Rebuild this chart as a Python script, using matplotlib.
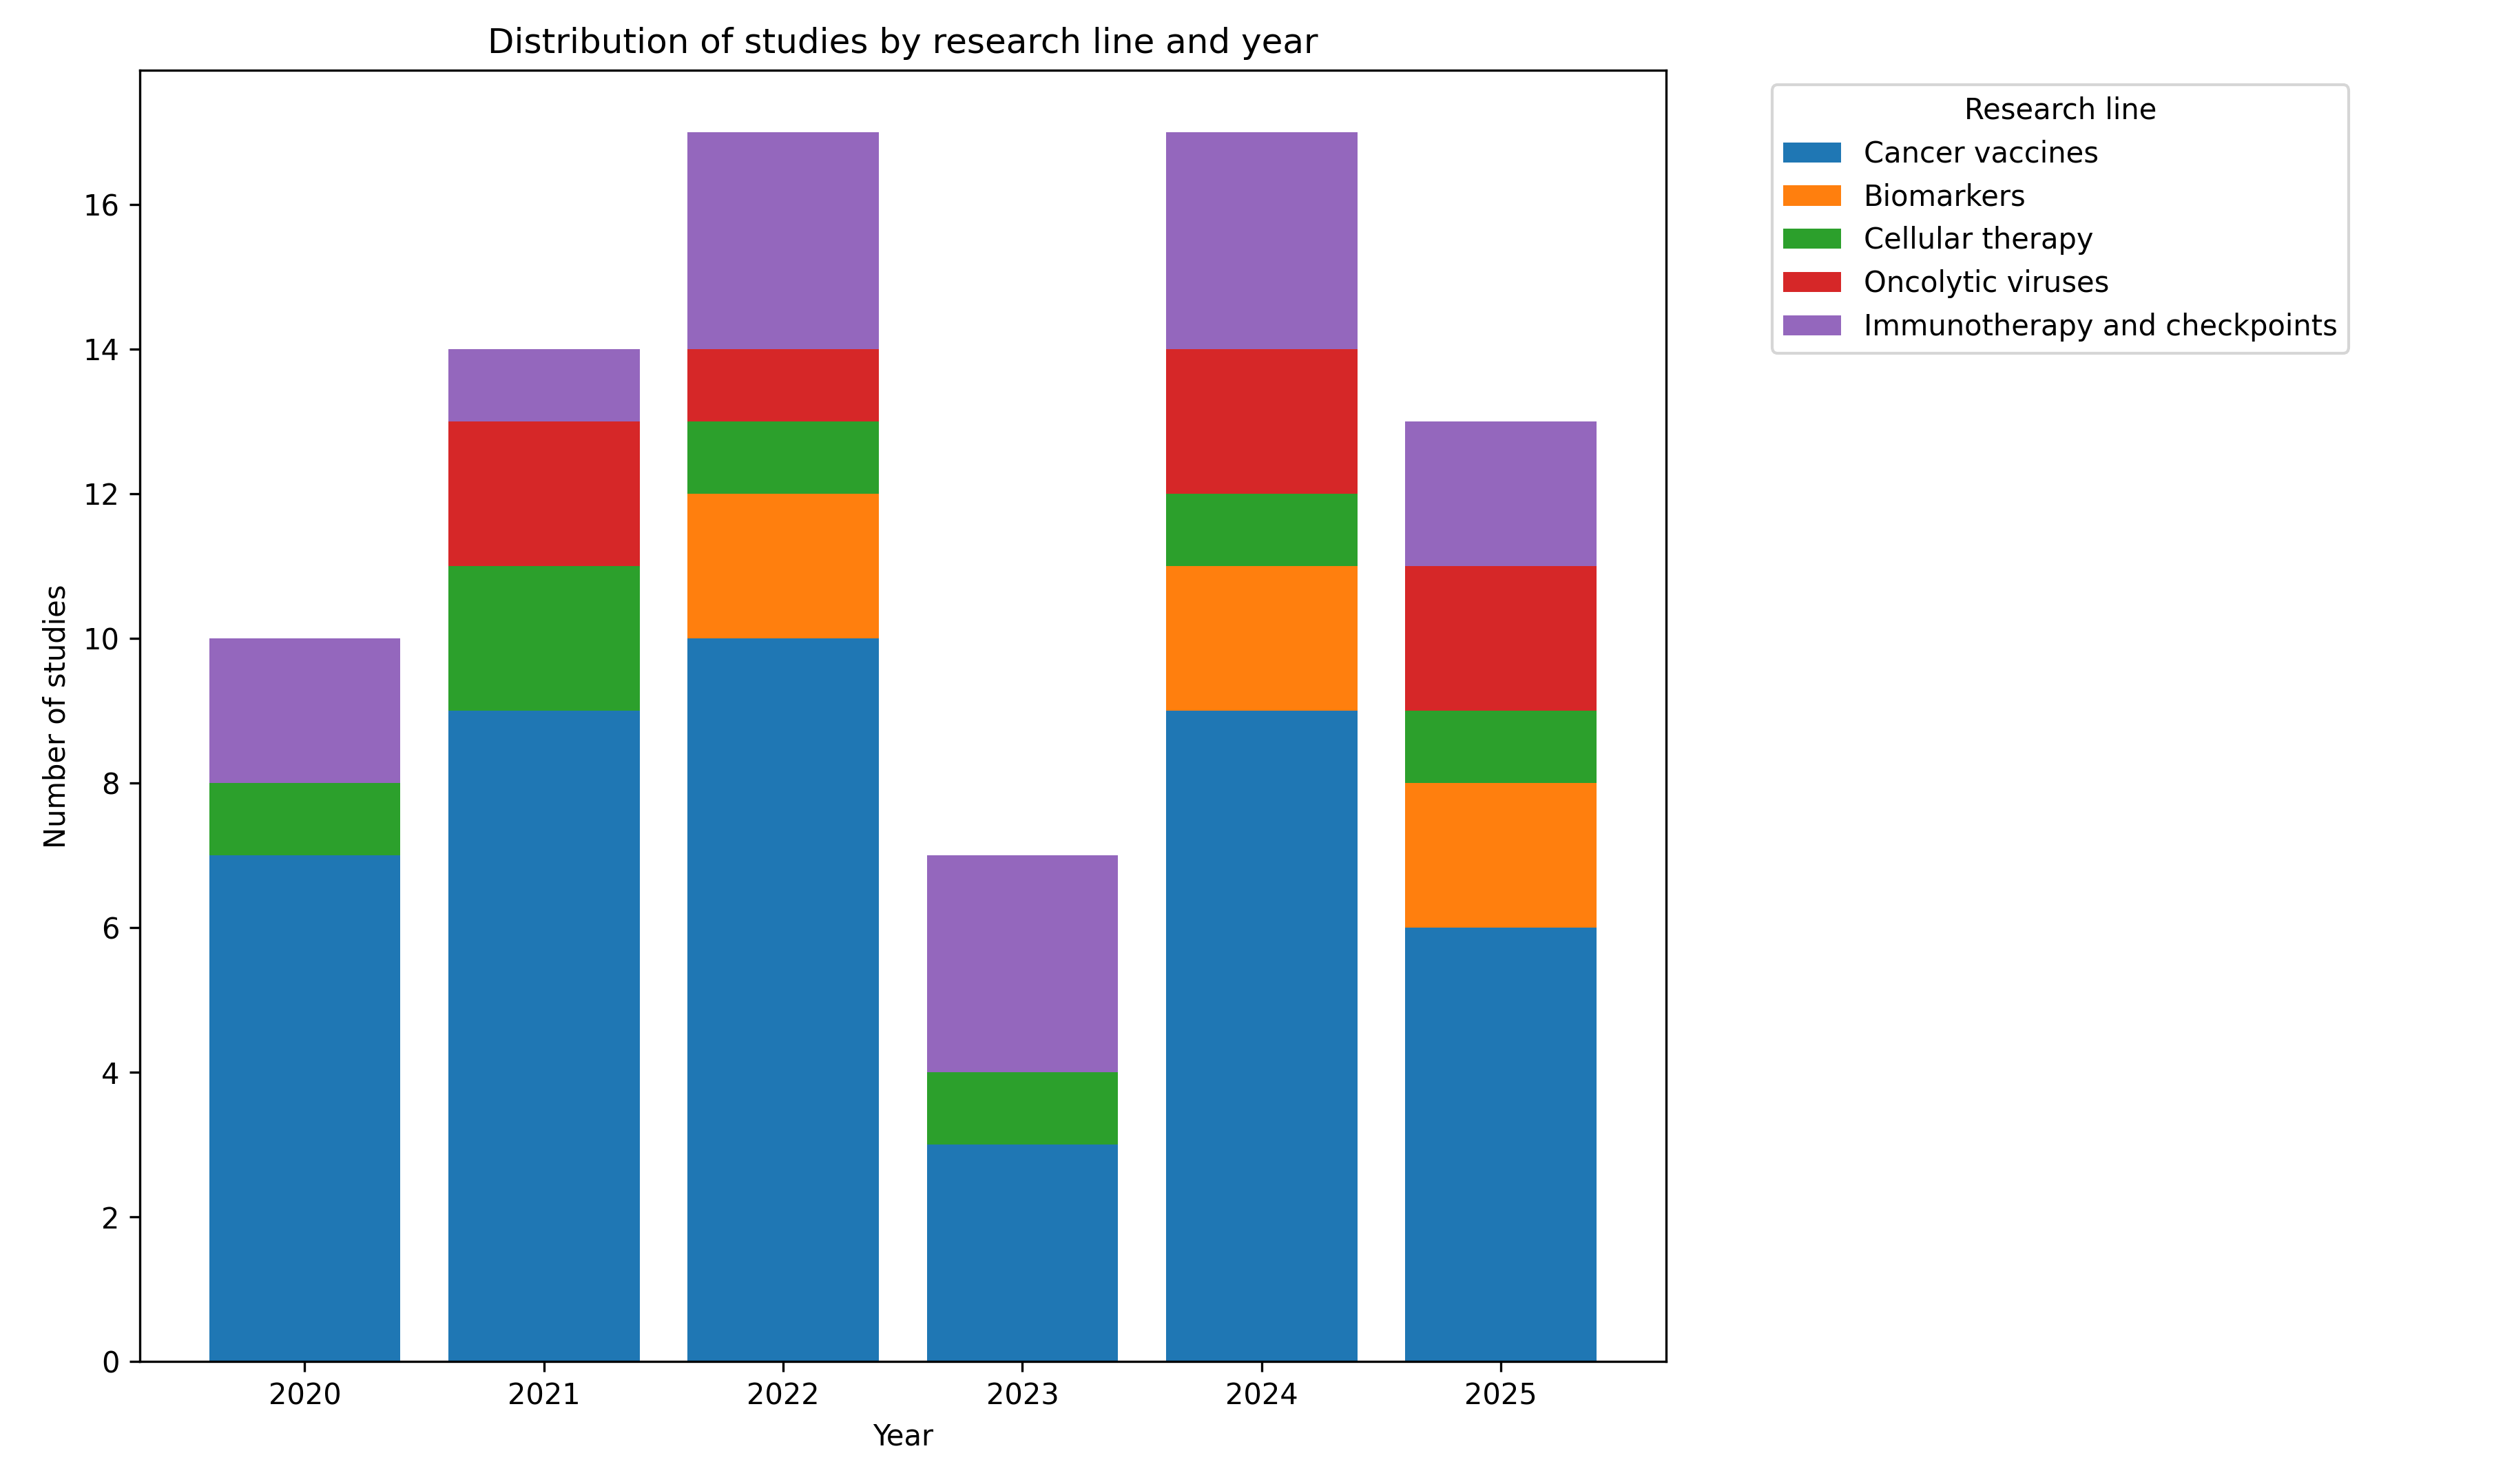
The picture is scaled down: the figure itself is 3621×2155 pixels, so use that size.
import numpy as np
import matplotlib.pyplot as plt

years = ["2020", "2021", "2022", "2023", "2024", "2025"]
series_names = ["Cancer vaccines", "Biomarkers", "Cellular therapy",
                "Oncolytic viruses", "Immunotherapy and checkpoints"]
cancer_vaccines = [7, 9, 10, 3, 9, 6]
biomarkers = [0, 0, 2, 0, 2, 2]
cellular_therapy = [1, 2, 1, 1, 1, 1]
oncolytic_viruses = [0, 2, 1, 0, 2, 2]
immunotherapy = [2, 1, 3, 3, 3, 2]
colors = ["#1f77b4", "#ff7f0e", "#2ca02c", "#d62728", "#9467bd"]

fig = plt.figure(figsize=(3621 / 300, 2155 / 300), dpi=300)
ax = fig.add_axes([0.056, 0.0825, 0.612, 0.87])

x = np.arange(len(years))
bottom = np.zeros(len(years))
for name, vals, c in zip(series_names,
                         [cancer_vaccines, biomarkers, cellular_therapy,
                          oncolytic_viruses, immunotherapy], colors):
    ax.bar(x, vals, bottom=bottom, color=c, label=name, width=0.8)
    bottom += np.array(vals)

ax.set_xticks(x)
ax.set_xticklabels(years)
ax.set_xlabel("Year")
ax.set_ylabel("Number of studies")
ax.set_title("Distribution of studies by research line and year", fontsize=12)
ax.legend(title="Research line", bbox_to_anchor=(1.06, 1.0), loc="upper left")

fig.savefig("out.png", dpi=300)
